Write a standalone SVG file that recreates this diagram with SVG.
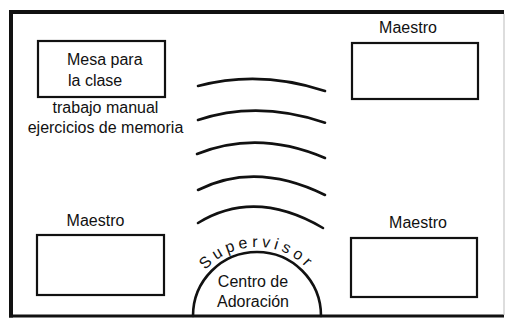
<svg xmlns="http://www.w3.org/2000/svg" width="506" height="326" viewBox="0 0 506 326">
<style>
text{font-family:"Liberation Sans",Arial,sans-serif;font-size:16px;fill:#111}
.box{fill:none;stroke:#111;stroke-width:2.2}
.wave{fill:none;stroke:#111;stroke-width:2.6;stroke-linecap:round}
.m{text-anchor:middle}
</style>
<defs>
<path id="supPath" d="M197.2,281.5 A69,69 0 0 1 316.8,281.5"/>
</defs>
<rect width="506" height="326" fill="#fff"/>
<g id="frame">
<line x1="11" y1="12" x2="504" y2="12" stroke="#111" stroke-width="4"/>
<line x1="11" y1="10" x2="11" y2="317.5" stroke="#111" stroke-width="4"/>
<line x1="9" y1="316" x2="504" y2="316" stroke="#111" stroke-width="3"/>
<line x1="504" y1="14" x2="504" y2="315" stroke="#bbb" stroke-width="1"/>
</g>
<g id="mesa">
<rect class="box" x="38" y="41" width="127" height="56"/>
<text x="67" y="65">Mesa para</text>
<text x="68" y="86">la clase</text>
<text class="m" x="105.5" y="113">trabajo manual</text>
<text class="m" x="105.5" y="133">ejercicios de memoria</text>
</g>
<g id="maestro-tr">
<text class="m" x="408" y="33">Maestro</text>
<rect class="box" x="352" y="43" width="126" height="56"/>
</g>
<g id="maestro-bl">
<text class="m" x="95.5" y="226">Maestro</text>
<rect class="box" x="37" y="235" width="127" height="60"/>
</g>
<g id="maestro-br">
<text class="m" x="418" y="228">Maestro</text>
<rect class="box" x="351" y="238" width="126" height="59"/>
</g>
<g id="connectors">
<path class="wave" d="M198,86 Q260,69.5 325,91"/>
<path class="wave" d="M198,120 Q258,100 325,122.7"/>
<path class="wave" d="M197,154 Q258,129.4 325,158"/>
<path class="wave" d="M198,190 Q256,161 325,195"/>
<path class="wave" d="M198,223 Q255,188 323,228"/>
</g>
<g id="centro">
<path class="wave" d="M193,316 A64,64 0 0 1 321,316" stroke-linecap="butt"/>
<text class="m" x="253" y="287">Centro de</text>
<text class="m" x="253" y="307">Adoración</text>
<text font-size="14" letter-spacing="4"><textPath href="#supPath" startOffset="50%" text-anchor="middle">Supervisor</textPath></text>
</g>
</svg>
